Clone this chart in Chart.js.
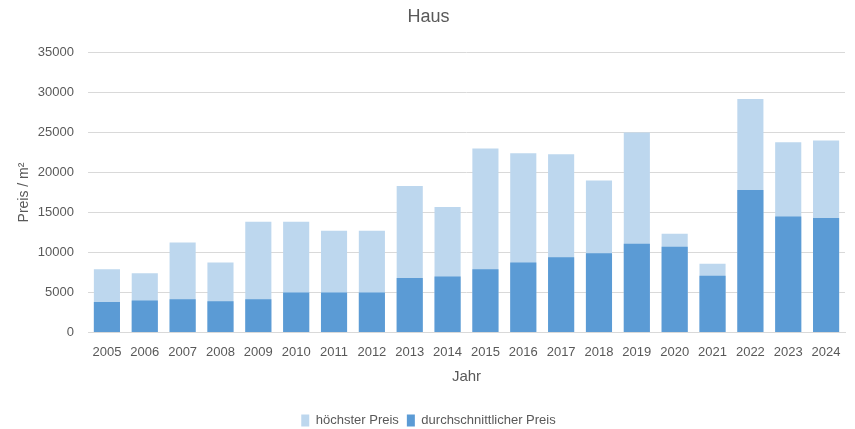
<!DOCTYPE html>
<html>
<head>
<meta charset="utf-8">
<script src="https://cdn.jsdelivr.net/npm/chart.js@4/dist/chart.umd.min.js"></script>
<style>
  html, body { margin: 0; padding: 0; background: #fff; }
  #wrap { width: 855px; height: 429px; }
</style>
</head>
<body>
<div id="wrap"><canvas id="hausChart" width="855" height="429"></canvas></div>
<script>
// Haus - Preis pro m2
const years = ['2005', '2006', '2007', '2008', '2009', '2010', '2011', '2012', '2013', '2014',
               '2015', '2016', '2017', '2018', '2019', '2020', '2021', '2022', '2023', '2024'];
const hoechsterPreis = [7900, 7400, 11250, 8750, 13850, 13850, 12700, 12700, 18300, 15700,
                        23000, 22400, 22300, 19000, 25000, 12350, 8600, 29200, 23800, 24000];
const durchschnittPreis = [3800, 4000, 4150, 3900, 4150, 5000, 5000, 5000, 6800, 7000,
                           7900, 8750, 9400, 9900, 11100, 10700, 7100, 17800, 14500, 14300];

const textColor = '#595959';
const gridColor = '#d9d9d9';
const font = 'Liberation Sans, Arial, sans-serif';

new Chart(document.getElementById('hausChart'), {
    type: 'bar',
    data: {
        labels: years,
        datasets: [{
            label: 'höchster Preis',
            data: hoechsterPreis,
            backgroundColor: '#bdd7ee',
            order: 2,
        }, {
            label: 'durchschnittlicher Preis',
            data: durchschnittPreis,
            backgroundColor: '#5b9bd5',
            order: 1,
        }]
    },
    options: {
        responsive: false,
        animation: false,
        layout: { padding: { left: 12, right: 10, top: 6, bottom: -8 } },
        datasets: { bar: { categoryPercentage: 1, barPercentage: 0.69 } },
        plugins: {
            title: { display: true, text: 'Haus', color: textColor,
                     font: { family: font, size: 18, weight: 'normal' }, padding: { top: 0, bottom: 25 } },
            legend: { position: 'bottom',
                      labels: { color: textColor, boxWidth: 8, boxHeight: 12, padding: 8,
                                font: { family: font, size: 13 },
                                sort: (a, b) => a.datasetIndex - b.datasetIndex } },
            tooltip: { enabled: false }
        },
        scales: {
            x: {
                stacked: true,
                grid: { display: false },
                border: { color: gridColor },
                ticks: { color: textColor, font: { family: font, size: 13 }, maxRotation: 0, padding: 4 },
                title: { display: true, text: 'Jahr', color: textColor,
                         font: { family: font, size: 15 }, padding: { top: 4, bottom: 20 } }
            },
            y: {
                stacked: false,
                min: 0, max: 35000,
                afterFit: s => { s.width = 76; },
                ticks: { stepSize: 5000, color: textColor, padding: 14,
                         callback: v => String(v),
                         font: { family: font, size: 13 } },
                grid: { color: gridColor, drawTicks: false },
                border: { display: false },
                title: { display: true, text: 'Preis / m²', color: textColor,
                         font: { family: font, size: 14 } }
            }
        }
    }
});
</script>
</body>
</html>
